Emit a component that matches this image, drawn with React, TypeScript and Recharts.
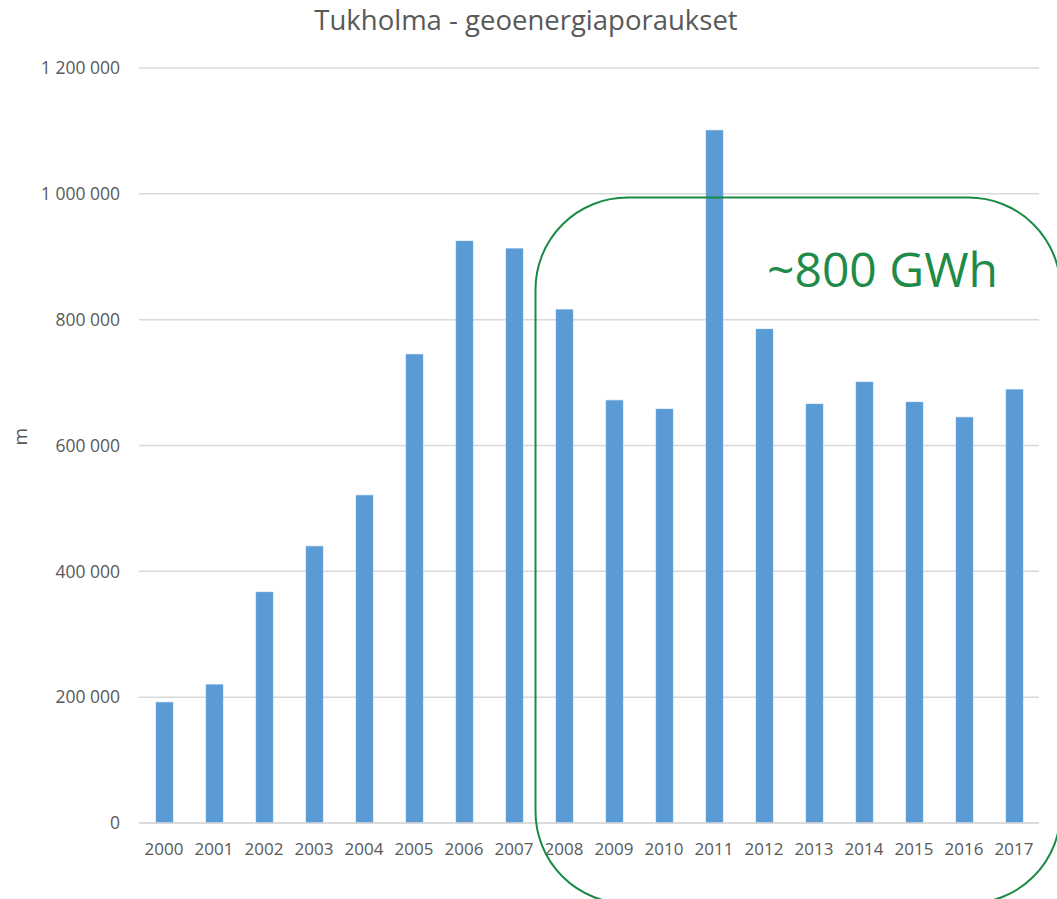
import React from 'react';
import { BarChart, Bar, XAxis, YAxis, CartesianGrid } from 'recharts';

const years = ['2000','2001','2002','2003','2004','2005','2006','2007','2008','2009','2010','2011','2012','2013','2014','2015','2016','2017'];
const meters = [192000, 220000, 367000, 440000, 521000, 745000, 925000, 913000, 816000, 672000, 658000, 1101000, 785000, 666000, 701000, 669000, 645000, 689000];
const yTicks = [0, 200000, 400000, 600000, 800000, 1000000, 1200000];
const title = 'Tukholma - geoenergiaporaukset';
const yLabel = 'm';
const note = '~800 GWh';

const data = years.map((y, i) => ({ year: y, value: meters[i] }));

const fmt = (v: number) => String(v).replace(/\B(?=(\d{3})+(?!\d))/g, ' ');

const FONT = '"Open Sans", "DejaVu Sans", sans-serif';

export default function App() {
  return (
    <div style={{ position: 'absolute', left: 0, top: 0, width: 1057, height: 899, background: '#fff', fontFamily: FONT }}>
      <BarChart
        width={1057}
        height={899}
        data={data}
        margin={{ top: 68, right: 18, bottom: 0, left: 0 }}
        barCategoryGap={0}
      >
        <CartesianGrid vertical={false} stroke="#d9d9d9" strokeWidth={1.5} />
        <XAxis
          dataKey="year"
          height={76}
          axisLine={{ stroke: '#d9d9d9', strokeWidth: 1.5 }}
          tickLine={false}
          tickSize={0}
          tickMargin={20}
          tick={{ fill: '#595959', fontSize: 17, fontFamily: FONT }}
          interval={0}
        />
        <YAxis
          width={139}
          domain={[0, 1200000]}
          ticks={yTicks}
          tickFormatter={fmt}
          axisLine={false}
          tickLine={false}
          tickSize={0}
          tickMargin={19}
          tick={{ fill: '#595959', fontSize: 17.5, fontFamily: FONT }}
          label={{ value: yLabel, angle: -90, position: 'insideLeft', offset: 20, fill: '#595959', fontSize: 19, fontFamily: FONT }}
        />
        <Bar dataKey="value" fill="#5b9bd5" stroke="#7fb2e0" strokeWidth={0.5} barSize={17} isAnimationActive={false} />
      </BarChart>
      <svg width={1057} height={899} style={{ position: 'absolute', left: 0, top: 0, pointerEvents: 'none' }}>
        <text x={526} y={30} textAnchor="middle" fill="#595959" fontSize={27.5} fontFamily={FONT}>{title}</text>
        <rect x={535.5} y={197.5} width={525} height={706} rx={92} ry={92} fill="none" stroke="#1a8a45" strokeWidth={2} />
        <text x={767} y={287} fill="#1e8b48" fontSize={48} fontFamily={FONT}>{note}</text>
      </svg>
    </div>
  );
}
